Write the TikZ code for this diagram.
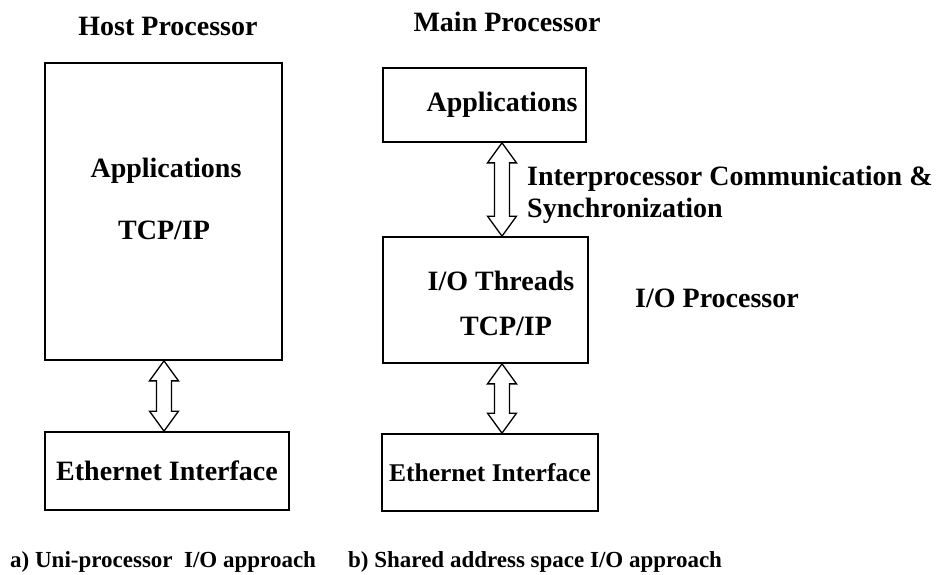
\documentclass[tikz,border=0pt]{standalone}
\usepackage{fontspec}
\setmainfont{Liberation Serif}
\usetikzlibrary{calc}
% hollow double-headed block arrow from the top point #1 to the bottom point #2
\newcommand\blockarrow[2]{%
  \draw[dblarrow] (#1) -- ($(#1)+(14.5,20)$) -- ($(#1)+(7.5,20)$) -- ($(#2)+(7.5,-20)$)
    -- ($(#2)+(14.5,-20)$) -- (#2) -- ($(#2)+(-14.5,-20)$) -- ($(#2)+(-7.5,-20)$)
    -- ($(#1)+(-7.5,20)$) -- ($(#1)+(-14.5,20)$) -- cycle;}
\begin{document}
\begin{tikzpicture}[x=1pt,y=-1pt,
  box/.style={draw, line width=1.7pt, inner sep=0pt},
  lbl/.style={font=\fontsize{28}{32}\selectfont\bfseries, inner sep=0pt, anchor=base},
  captext/.style={font=\fontsize{23}{27}\selectfont\bfseries, inner sep=0pt, anchor=base west},
  dblarrow/.style={draw, line width=1.3pt, fill=white, line join=miter}]
\useasboundingbox[fill=white] (0,0) rectangle (950,575);

% a) uni-processor
\node[lbl] (hosttitle) at (168,36) {Host Processor};
\node[box, minimum width=237pt, minimum height=297pt] (host) at (163.5,211.5) {};
\node[lbl] (happ) at (166,177) {Applications};
\node[lbl] (htcp) at (164,239) {TCP/IP};
\node[box, minimum width=244pt, minimum height=78pt] (heth) at (167,471) {};
\node[lbl] (hethtext) at (167,480) {Ethernet Interface};
\coordinate (hx) at (164,0);
\coordinate (h1) at (hx |- host.south);
\coordinate (h2) at (hx |- heth.north);
\blockarrow{h1}{h2}

% b) shared address space
\node[lbl] (maintitle) at (507,32) {Main Processor};
\node[box, minimum width=203pt, minimum height=74pt] (mapp) at (484.5,105) {};
\node[lbl] (mapptext) at (502,112) {Applications};
\node[box, minimum width=205pt, minimum height=126pt] (io) at (485.5,300) {};
\node[lbl] (iothr) at (501,290) {I/O Threads};
\node[lbl] (iotcp) at (506,335) {TCP/IP};
\node[box, minimum width=216pt, minimum height=77pt] (meth) at (490,472.5) {};
\node[lbl, font=\fontsize{25.5}{30}\selectfont\bfseries] (methtext) at (490,481) {Ethernet Interface};
\node[lbl, anchor=base west] (ipc1) at (527,185) {Interprocessor Communication \&};
\node[lbl, anchor=base west] (ipc2) at (527,217) {Synchronization};
\node[lbl, anchor=base west] (iop) at (635,307) {I/O Processor};
\coordinate (mx) at (502,0);
\coordinate (m1) at (mx |- mapp.south);
\coordinate (m2) at (mx |- io.north);
\coordinate (m3) at (mx |- io.south);
\coordinate (m4) at (mx |- meth.north);
\blockarrow{m1}{m2}
\blockarrow{m3}{m4}

% captions
\node[captext] (capa) at (10,567) {a) Uni-processor\ \ I/O approach};
\node[captext] (capb) at (348,567) {b) Shared address space I/O approach};
\end{tikzpicture}
\end{document}
